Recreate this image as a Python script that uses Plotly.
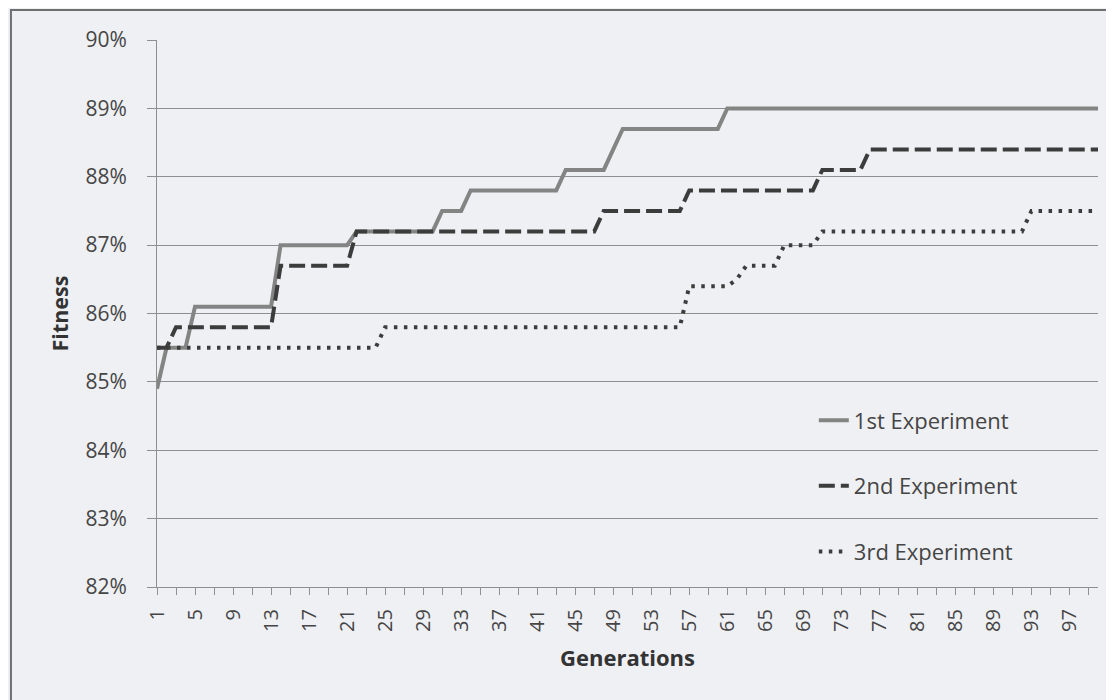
import plotly.graph_objects as go

generations = list(range(1, 101))

exp1 = [84.9, 85.5, 85.5, 85.5,
        86.1, 86.1, 86.1, 86.1, 86.1, 86.1, 86.1, 86.1, 86.1,
        87.0, 87.0, 87.0, 87.0, 87.0, 87.0, 87.0, 87.0,
        87.2, 87.2, 87.2, 87.2, 87.2, 87.2, 87.2, 87.2, 87.2,
        87.5, 87.5, 87.5,
        87.8, 87.8, 87.8, 87.8, 87.8, 87.8, 87.8, 87.8, 87.8, 87.8,
        88.1, 88.1, 88.1, 88.1, 88.1,
        88.4,
        88.7, 88.7, 88.7, 88.7, 88.7, 88.7, 88.7, 88.7, 88.7, 88.7, 88.7,
        89.0, 89.0, 89.0, 89.0, 89.0, 89.0, 89.0, 89.0, 89.0, 89.0,
        89.0, 89.0, 89.0, 89.0, 89.0, 89.0, 89.0, 89.0, 89.0, 89.0,
        89.0, 89.0, 89.0, 89.0, 89.0, 89.0, 89.0, 89.0, 89.0, 89.0,
        89.0, 89.0, 89.0, 89.0, 89.0, 89.0, 89.0, 89.0, 89.0, 89.0]

exp2 = [85.5, 85.5,
        85.8, 85.8, 85.8, 85.8, 85.8, 85.8, 85.8, 85.8, 85.8, 85.8, 85.8,
        86.7, 86.7, 86.7, 86.7, 86.7, 86.7, 86.7, 86.7,
        87.2, 87.2, 87.2, 87.2, 87.2, 87.2, 87.2, 87.2, 87.2, 87.2,
        87.2, 87.2, 87.2, 87.2, 87.2, 87.2, 87.2, 87.2, 87.2, 87.2,
        87.2, 87.2, 87.2, 87.2, 87.2, 87.2,
        87.5, 87.5, 87.5, 87.5, 87.5, 87.5, 87.5, 87.5, 87.5,
        87.8, 87.8, 87.8, 87.8, 87.8, 87.8, 87.8, 87.8, 87.8, 87.8,
        87.8, 87.8, 87.8, 87.8,
        88.1, 88.1, 88.1, 88.1, 88.1,
        88.4, 88.4, 88.4, 88.4, 88.4, 88.4, 88.4, 88.4, 88.4, 88.4,
        88.4, 88.4, 88.4, 88.4, 88.4, 88.4, 88.4, 88.4, 88.4, 88.4,
        88.4, 88.4, 88.4, 88.4, 88.4]

exp3 = [85.5, 85.5, 85.5, 85.5, 85.5, 85.5, 85.5, 85.5, 85.5, 85.5,
        85.5, 85.5, 85.5, 85.5, 85.5, 85.5, 85.5, 85.5, 85.5, 85.5,
        85.5, 85.5, 85.5, 85.5,
        85.8, 85.8, 85.8, 85.8, 85.8, 85.8, 85.8, 85.8, 85.8, 85.8,
        85.8, 85.8, 85.8, 85.8, 85.8, 85.8, 85.8, 85.8, 85.8, 85.8,
        85.8, 85.8, 85.8, 85.8, 85.8, 85.8, 85.8, 85.8, 85.8, 85.8,
        85.8, 85.8,
        86.4, 86.4, 86.4, 86.4, 86.4,
        86.5,
        86.7, 86.7, 86.7, 86.7,
        87.0, 87.0, 87.0, 87.0,
        87.2, 87.2, 87.2, 87.2, 87.2, 87.2, 87.2, 87.2, 87.2, 87.2,
        87.2, 87.2, 87.2, 87.2, 87.2, 87.2, 87.2, 87.2, 87.2, 87.2,
        87.2, 87.2,
        87.5, 87.5, 87.5, 87.5, 87.5, 87.5, 87.5, 87.5]

series_names = ["1st Experiment", "2nd Experiment", "3rd Experiment"]
y_ticks = [82, 83, 84, 85, 86, 87, 88, 89, 90]
y_tick_text = ["82%", "83%", "84%", "85%", "86%", "87%", "88%", "89%", "90%"]

BG = "#eff0f4"
GRID = "#8f8f8f"
TXT = "#454545"

fig = go.Figure()
fig.add_trace(go.Scatter(x=generations, y=exp1, mode="lines", name=series_names[0],
                         legendgroup="g1", line=dict(color="#848484", width=4)))
fig.add_trace(go.Scatter(x=generations, y=exp2, mode="lines", name=series_names[1],
                         legendgroup="g2", line=dict(color="#3c3c3c", width=4, dash="16px,6px")))
fig.add_trace(go.Scatter(x=generations, y=exp3, mode="lines", name=series_names[2],
                         legendgroup="g3", line=dict(color="#3c3c3c", width=4, dash="3.5px,6.5px")))

fig.update_layout(
    width=1106, height=692,
    margin=dict(l=149, r=16, t=32, b=113),
    paper_bgcolor=BG, plot_bgcolor=BG,
    font=dict(family="Open Sans", size=21, color=TXT),
    showlegend=True,
    legend=dict(x=0.698, y=0.343, xanchor="left", yanchor="top",
                bgcolor="rgba(0,0,0,0)", tracegroupgap=34,
                font=dict(family="Open Sans", size=22, color=TXT)),
    shapes=[dict(type="rect", xref="paper", yref="paper",
                 x0=-0.1552, x1=1.05, y0=-0.25, y1=1.0548,
                 line=dict(color="#6f6f6f", width=2), fillcolor="rgba(0,0,0,0)",
                 layer="below")],
)

fig.update_xaxes(
    range=[1, 100], tickmode="linear", tick0=1, dtick=4, tickangle=-90,
    ticks="outside", ticklen=7, tickcolor=GRID, tickwidth=1,
    minor=dict(tick0=1, dtick=2, ticks="outside", ticklen=7, tickcolor=GRID, tickwidth=1),
    showgrid=False, zeroline=False, showline=True, linecolor=GRID, linewidth=1,
    tickfont=dict(family="Open Sans", size=20, color=TXT),
    ticklabelstandoff=6, automargin=False,
    title=dict(text="<b>Generations</b>", standoff=19,
               font=dict(family="Open Sans", size=22, color="#333333")),
)
fig.update_yaxes(
    range=[82, 90], tickmode="array", tickvals=y_ticks, ticktext=y_tick_text,
    ticks="outside", ticklen=9, tickcolor=GRID, tickwidth=1,
    showgrid=True, gridcolor=GRID, gridwidth=1,
    zeroline=False, showline=True, linecolor=GRID, linewidth=1,
    tickfont=dict(family="Open Sans", size=21, color=TXT),
    ticklabelstandoff=16, automargin=False,
    title=dict(text="<b>Fitness</b>", standoff=10,
               font=dict(family="Open Sans", size=21.5, color="#333333")),
)

fig.write_html("out.html")
